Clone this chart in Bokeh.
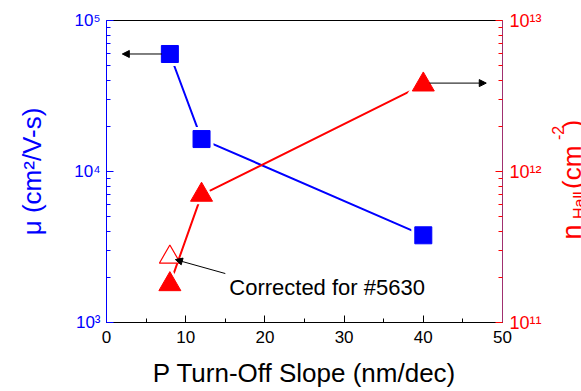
import math
from bokeh.plotting import figure
from bokeh.layouts import row
from bokeh.models import (Range1d, LogScale, LogAxis, LinearAxis, FixedTicker,
                          SingleIntervalTicker, CustomJSTickFormatter, Arrow, NormalHead, Label)
from bokeh.embed import file_html
from bokeh.resources import INLINE

# ---------------- data ----------------
slope = [8, 12, 40]                      # P turn-off slope (nm/dec)
mobility = [6.0e4, 1.64e4, 3.78e3]       # mu (cm^2/V-s), left axis
n_hall = [1.79e11, 7.0e11, 3.76e12]      # n_Hall (cm^-2), right axis
corrected_slope = [8]
corrected_n_hall = [2.71e11]             # corrected for #5630

x_lim = [0, 50]
mu_lim = [1e3, 1e5]
n_lim = [1e11, 1e13]

mu_major = [1e3, 1e4, 1e5]
mu_minor = [k * 1e3 for k in range(2, 10)] + [k * 1e4 for k in range(2, 10)]
n_major = [1e11, 1e12, 1e13]
n_minor = [k * 1e11 for k in range(2, 10)] + [k * 1e12 for k in range(2, 10)]

# annotation arrows (data coords)
arrow_left = dict(x_start=7.0, x_end=2.0, y=6.0e4)
arrow_right = dict(x_start=40.8, x_end=47.95, y=3.85e12)
arrow_note = dict(x_start=15.0, y_start=2.11e11, x_end=8.7, y_end=2.61e11)
note_text = "Corrected for #5630"
note_pos = dict(x=15.5, y=1.70e11)

FONT = "Liberation Sans"
BLUE = "#0000ff"
RED = "#ff0000"
BORDER_TOP, BORDER_BOTTOM = 20, 69

p = figure(width=544, height=391, x_range=Range1d(*x_lim), y_range=Range1d(*mu_lim),
           y_axis_type="log", output_backend="svg", toolbar_location=None,
           min_border_left=106, min_border_right=41, min_border_top=BORDER_TOP,
           min_border_bottom=BORDER_BOTTOM)
p.grid.visible = False
p.outline_line_color = None
p.background_fill_color = "white"
p.border_fill_color = "white"

p.extra_y_ranges = {"n": Range1d(*n_lim)}
p.extra_y_scales = {"n": LogScale()}

sup_code = """
const sup = {'0':'\u2070','1':'\u00b9','2':'\u00b2','3':'\u00b3','4':'\u2074','5':'\u2075','6':'\u2076','7':'\u2077','8':'\u2078','9':'\u2079','-':'\u207b'};
const e = Math.round(Math.log10(tick));
return '10' + String(e).split('').map(c => sup[c]).join('');
"""

def style_ticks(ax, color):
    ax.major_tick_in = 7
    ax.major_tick_out = 0
    ax.minor_tick_in = 4
    ax.minor_tick_out = 0
    ax.major_tick_line_color = color
    ax.minor_tick_line_color = color
    ax.major_label_text_font = FONT
    ax.major_label_text_font_size = "17px"
    ax.axis_label_text_font = FONT
    ax.axis_label_text_font_size = "26px"
    ax.axis_label_text_font_style = "normal"

# left axis
la = p.yaxis[0]
la.ticker = FixedTicker(ticks=mu_major, minor_ticks=mu_minor)
la.formatter = CustomJSTickFormatter(code=sup_code)
style_ticks(la, BLUE)
la.axis_line_color = BLUE
la.major_label_text_color = BLUE
la.axis_label = "\u03bc (cm\u00b2/V-s)"
la.axis_label_text_color = BLUE
la.major_label_standoff = 6
la.axis_label_standoff = 24

# bottom axis
ba = p.xaxis[0]
ba.ticker = SingleIntervalTicker(interval=10, num_minor_ticks=2)
style_ticks(ba, "black")
ba.axis_line_color = "black"
ba.major_label_text_color = "black"
ba.axis_label = "P Turn-Off Slope (nm/dec)"
ba.axis_label_text_color = "black"
ba.major_label_standoff = 8
ba.axis_label_standoff = 12

# top line
ta = LinearAxis(ticker=FixedTicker(ticks=[]), axis_line_color="black",
                major_tick_line_color=None, minor_tick_line_color=None)
p.add_layout(ta, "above")

# right axis
ra = LogAxis(y_range_name="n", ticker=FixedTicker(ticks=n_major, minor_ticks=n_minor),
             formatter=CustomJSTickFormatter(code=sup_code))
style_ticks(ra, RED)
ra.axis_line_color = "#a03070"
ra.major_label_text_color = RED
ra.major_label_text_font_size = "18px"
ra.major_label_standoff = 7
p.add_layout(ra, "right")

# ---------------- data glyphs ----------------
p.line(slope, mobility, line_color=BLUE, line_width=2)
p.line(slope, n_hall, line_color=RED, line_width=2, y_range_name="n")
# white halos to leave small gaps between lines and symbols
p.scatter(slope, mobility, marker="square", size=24, fill_color="white", line_color=None)
p.scatter(slope, n_hall, marker="triangle", size=32, fill_color="white", line_color=None,
          y_range_name="n")
p.scatter(slope, mobility, marker="square", size=17, fill_color=BLUE, line_color=BLUE)
p.scatter(slope, n_hall, marker="triangle", size=22, fill_color=RED, line_color=RED,
          y_range_name="n")
p.scatter(corrected_slope, corrected_n_hall, marker="triangle", size=21, fill_color="white",
          line_color=RED, line_width=1.2, y_range_name="n")

# ---------------- annotations ----------------
def head():
    return NormalHead(size=7, fill_color="black", line_color="black", line_width=1)

p.add_layout(Arrow(end=head(), x_start=arrow_left["x_start"], y_start=arrow_left["y"],
                   x_end=arrow_left["x_end"], y_end=arrow_left["y"], line_width=1,
                   line_color="black"))
p.add_layout(Arrow(end=head(), x_start=arrow_right["x_start"], y_start=arrow_right["y"],
                   x_end=arrow_right["x_end"], y_end=arrow_right["y"], line_width=1,
                   line_color="black", y_range_name="n"))
p.add_layout(Arrow(end=head(), x_start=arrow_note["x_start"], y_start=arrow_note["y_start"],
                   x_end=arrow_note["x_end"], y_end=arrow_note["y_end"], line_width=1,
                   line_color="black", y_range_name="n"))
p.add_layout(Label(x=note_pos["x"], y=note_pos["y"], y_range_name="n", text=note_text,
                   text_font=FONT, text_font_size="22px", text_color="black",
                   text_baseline="alphabetic", text_align="left"))

# right axis title: n_Hall (cm^-2), in a narrow side panel (pieces for sub/superscripts)
t = figure(width=37, height=391, x_range=Range1d(0, 1), y_range=Range1d(0, 1),
           x_axis_type=None, y_axis_type=None, output_backend="svg", toolbar_location=None,
           min_border_left=0, min_border_right=0, min_border_top=BORDER_TOP,
           min_border_bottom=BORDER_BOTTOM)
t.outline_line_color = None
t.grid.visible = False
t.background_fill_color = "white"
t.border_fill_color = "white"
# (text, baseline x from panel left, start y above frame bottom, size)
pieces = [
    ("n", 27, 83, "27px"),
    ("Hall", 35, 103.5, "16px"),
    ("(cm", 27, 133.5, "26px"),
    ("-2", 13, 182.5, "16px"),
    (")", 27, 194, "26px"),
]
for txt, x, y, fs in pieces:
    t.add_layout(Label(x=x, y=y, x_units="screen", y_units="screen", text=txt,
                       angle=math.pi / 2, text_font=FONT, text_font_size=fs,
                       text_color=RED, text_align="left", text_baseline="alphabetic"))

layout = row(p, t, spacing=0)
open("out.html", "w").write(file_html(layout, INLINE))
